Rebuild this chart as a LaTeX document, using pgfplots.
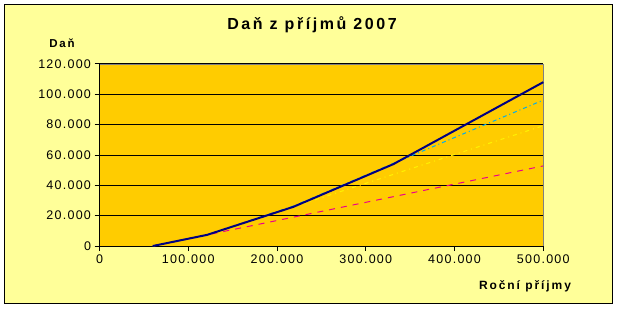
\documentclass[border=0pt]{standalone}
\usepackage{pgfplots}
\pgfplotsset{compat=1.18}
\usepackage{fontspec}
\setmainfont{Liberation Sans}
\newfontfamily\tickfont[LetterSpace=10]{Liberation Sans}
\newfontfamily\titlefont[LetterSpace=16]{Liberation Sans}
\definecolor{bgyel}{HTML}{FFFF99}
\definecolor{plotbg}{HTML}{FFCC00}
\definecolor{navy}{HTML}{000080}
\begin{document}
\begin{tikzpicture}
\fill[white] (0pt,0pt) rectangle (618pt,308pt);
\filldraw[fill=bgyel,draw=black,line width=1pt] (4.5pt,4.5pt) rectangle (612.5pt,303.5pt);
\node[font=\titlefont\fontsize{16}{18}\selectfont\bfseries] at (312pt,283pt) {Daň z příjmů 2007};
\node[font=\titlefont\fontsize{11.5}{13}\selectfont\bfseries] at (62pt,265pt) {Daň};
\node[font=\titlefont\fontsize{12}{14}\selectfont\bfseries] at (525pt,21.5pt) {Roční příjmy};
\begin{axis}[
  at={(99.5pt,62pt)}, anchor=south west,
  scale only axis, width=443.8pt, height=182pt,
  xmin=0, xmax=500000, ymin=0, ymax=120000,
  axis background/.style={fill=plotbg, draw=gray},
  axis x line*=bottom, axis y line*=left,
  axis line style={black, line width=1pt, -},
  xtick={0,100000,200000,300000,400000,500000},
  xticklabels={0,100.000,200.000,300.000,400.000,500.000},
  ytick={0,20000,40000,60000,80000,100000,120000},
  yticklabels={0,20.000,40.000,60.000,80.000,100.000,120.000},
  scaled ticks=false,
  tick align=outside, major tick length=5pt,
  tick style={black, line width=1pt},
  ymajorgrids, grid style={black, line width=1pt},
  ticklabel style={font=\tickfont\fontsize{12.5}{14}\selectfont},
  clip=false,
]
\addplot[magenta, line width=1pt, dash pattern=on 6pt off 6pt] coordinates {
 (60000,0) (121200,7344) (500000,52800)};
\addplot[yellow, line width=1pt, dash pattern=on 4pt off 4pt on 1pt off 4pt] coordinates {
 (60000,0) (121200,7344) (218400,25812) (500000,79316)};
\addplot[cyan, line width=1pt, dash pattern=on 4pt off 3pt on 1pt off 3pt] coordinates {
 (60000,0) (121200,7344) (218400,26312) (331200,54512) (500000,96212)};
\addplot[navy, line width=2pt] coordinates {
 (60000,0) (121200,7344) (218400,25812) (331200,54012) (500000,108028)};
\end{axis}
\end{tikzpicture}
\end{document}
